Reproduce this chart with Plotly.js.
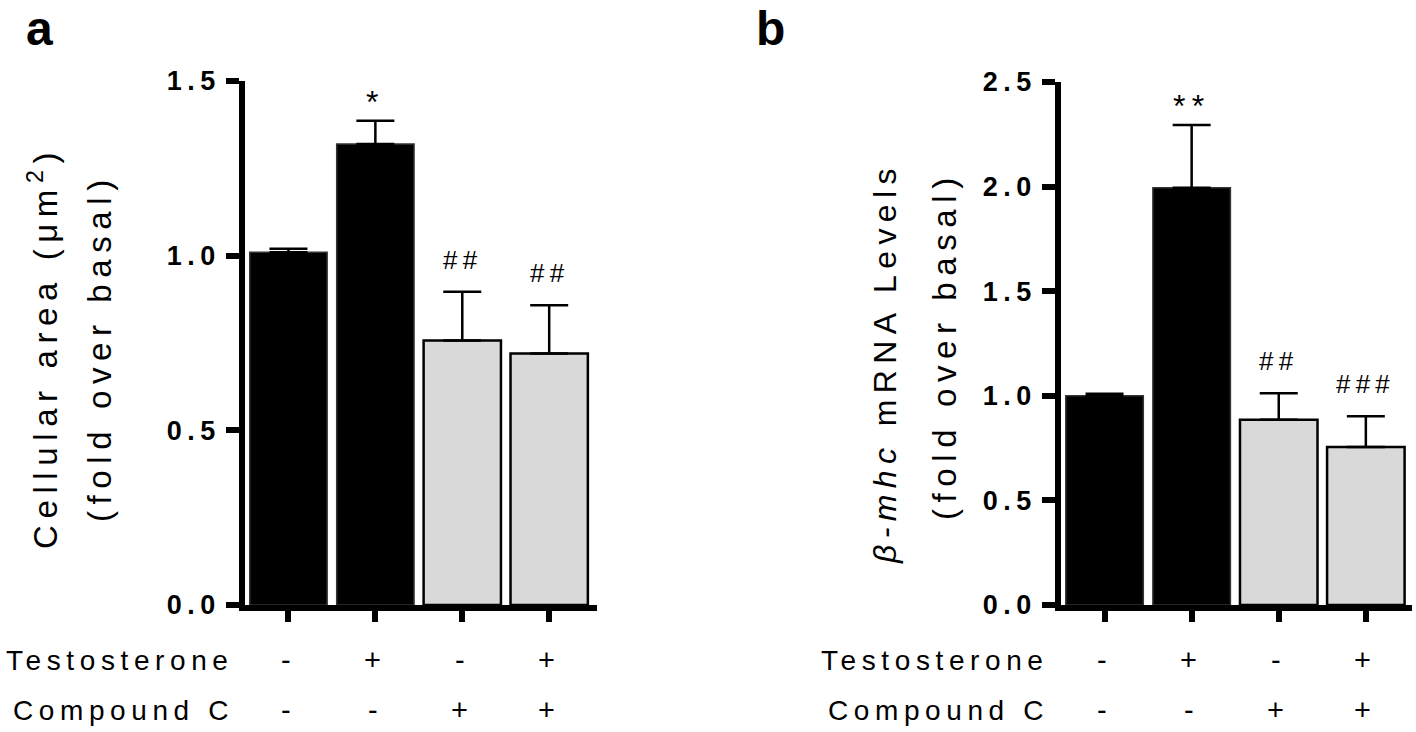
<!DOCTYPE html>
<html><head><meta charset="utf-8">
<script src="https://cdn.plot.ly/plotly-3.0.1.min.js"></script>
<style>
html,body{margin:0;padding:0;background:#fff;}
#chart{width:1416px;height:732px;}
svg text{letter-spacing:0.2em;}
</style></head><body><div id="chart"></div>
<script>
// ---- data ----
const categories = ['Basal', 'Testosterone', 'Compound C', 'Testosterone + Compound C'];
const testosteroneRow = ['-', '+', '-', '+'];
const compoundRow = ['-', '-', '+', '+'];

const areaMean = [1.01, 1.32, 0.757, 0.72];
const areaSem = [0.01, 0.066, 0.14, 0.138];
const areaSig = ['', '*', '##', '##'];

const mhcMean = [1.0, 1.995, 0.885, 0.755];
const mhcSem = [0.01, 0.30, 0.127, 0.147];
const mhcSig = ['', '**', '##', '###'];

const areaTickVals = [0, 0.5, 1.0, 1.5];
const areaTickText = ['0.0', '0.5', '1.0', '1.5'];
const mhcTickVals = [0, 0.5, 1.0, 1.5, 2.0, 2.5];
const mhcTickText = ['0.0', '0.5', '1.0', '1.5', '2.0', '2.5'];

const rowLabels = ['Testosterone', 'Compound C'];
const panelLabels = ['a', 'b'];
const areaTitle = ['Cellular area (μm<sup>2</sup>)', '(fold over basal)'];
const mhcTitle = ['<i>β-mhc</i> mRNA Levels', '(fold over basal)'];

// ---- style ----
const FONT = 'Liberation Sans, Arial, sans-serif';
const fillColors = ['#000000', '#000000', '#d9d9d9', '#d9d9d9'];
const lineColors = ['#333333', '#333333', '#000000', '#000000'];
const lineWidths = [1.5, 1.5, 2.5, 2.5];
const W = 1416, H = 732;
const px = v => v / W;
const py = v => (H - v) / H;

function barTrace(means, sems, xa, ya) {
  return {
    type: 'bar', x: categories, y: means, xaxis: xa, yaxis: ya,
    marker: { color: fillColors, line: { color: lineColors, width: lineWidths } },
    error_y: { type: 'data', symmetric: false, array: sems, arrayminus: sems.map(() => 0),
      color: '#000', thickness: 2.5, width: 19 },
    hoverinfo: 'skip', showlegend: false
  };
}

const traces = [barTrace(areaMean, areaSem, 'x', 'y'), barTrace(mhcMean, mhcSem, 'x2', 'y2')];

function xAxis(domain, rng, anchor) {
  return {
    domain: domain, type: 'category', range: rng, anchor: anchor, showline: true, linecolor: '#000', linewidth: 6,
    ticks: 'outside', ticklen: 11, tickwidth: 6, tickcolor: '#000', showticklabels: false,
    showgrid: false, zeroline: false, fixedrange: true
  };
}
function yAxis(domain, rng, vals, text, anchor) {
  return {
    domain: domain, range: rng, anchor: anchor, showline: true, linecolor: '#000', linewidth: 6,
    ticks: 'outside', ticklen: 13, tickwidth: 6, tickcolor: '#000',
    tickmode: 'array', tickvals: vals, ticktext: text,
    tickfont: { family: FONT, size: 27, color: '#000', weight: 'bold' },
    showgrid: false, zeroline: false, fixedrange: true
  };
}

const annotations = [];
function addSig(sig, means, sems, xr, yr) {
  sig.forEach((s, i) => {
    if (!s) return;
    const star = s.indexOf('*') >= 0;
    annotations.push({
      xref: xr, yref: yr, x: i, y: means[i] + sems[i], text: s, showarrow: false,
      xanchor: 'center', yanchor: 'middle', yshift: star ? 19 : 32,
      font: { family: FONT, size: star ? 32 : 26, color: '#000' }
    });
  });
}
addSig(areaSig, areaMean, areaSem, 'x', 'y');
addSig(mhcSig, mhcMean, mhcSem, 'x2', 'y2');

function addRows(xr, labelRight) {
  [testosteroneRow, compoundRow].forEach((row, r) => {
    const yy = py(r === 0 ? 660 : 710);
    annotations.push({ xref: 'paper', yref: 'paper', x: px(labelRight), y: yy, xanchor: 'right', yanchor: 'middle',
      text: rowLabels[r], showarrow: false, font: { family: FONT, size: 28, color: '#000' } });
    row.forEach((s, i) => {
      annotations.push({ xref: xr, yref: 'paper', x: i, y: yy, xanchor: 'center', yanchor: 'middle',
        text: s, showarrow: false, font: { family: FONT, size: 29, color: '#000' } });
    });
  });
}
addRows('x', 236);
addRows('x2', 1051);

function addTitle(lines, x1, y1, x2, y2, size1) {
  [[lines[0], x1, y1, size1], [lines[1], x2, y2, 33]].forEach(([t, x, y, s]) => {
    annotations.push({ xref: 'paper', yref: 'paper', x: px(x), y: py(y), xanchor: 'center', yanchor: 'middle',
      text: t, textangle: -90, showarrow: false, font: { family: FONT, size: s, color: '#000' } });
  });
}
addTitle(areaTitle, 43, 348, 99, 347, 33);
addTitle(mhcTitle, 885, 363, 944, 346, 32);

[[panelLabels[0], 44], [panelLabels[1], 775]].forEach(([t, x]) => {
  annotations.push({ xref: 'paper', yref: 'paper', x: px(x), y: 1, xanchor: 'center', yanchor: 'top',
    text: t, showarrow: false, font: { family: FONT, size: 48, color: '#000', weight: 'bold' } });
});

const layout = {
  width: W, height: H, margin: { l: 0, r: 0, t: 0, b: 0 },
  paper_bgcolor: '#fff', plot_bgcolor: '#fff', bargap: 0.11,
  xaxis: xAxis([px(245), px(597)], [-0.5, 3.55], 'y'),
  yaxis: yAxis([py(605), py(81)], [0, 1.5], areaTickVals, areaTickText, 'x'),
  xaxis2: xAxis([px(1061), px(1412)], [-0.5, 3.53], 'y2'),
  yaxis2: yAxis([py(605), py(82)], [0, 2.5], mhcTickVals, mhcTickText, 'x2'),
  annotations: annotations, showlegend: false
};

Plotly.newPlot('chart', traces, layout, { staticPlot: true, displayModeBar: false });
</script></body></html>
